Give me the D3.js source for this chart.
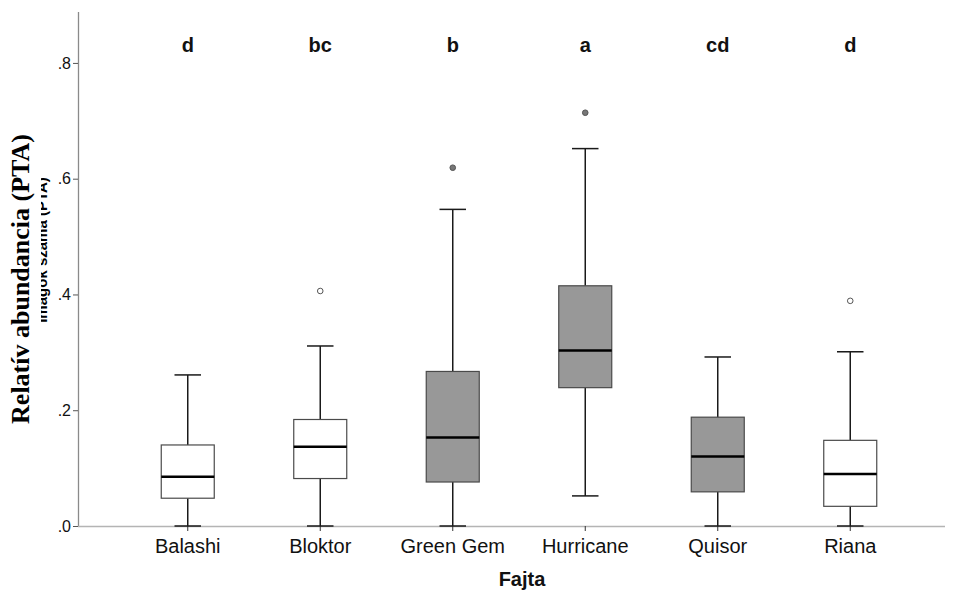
<!DOCTYPE html>
<html>
<head>
<meta charset="utf-8">
<script src="https://cdn.jsdelivr.net/npm/d3@7"></script>
<style>
  html, body { margin: 0; padding: 0; background: #fff; }
  svg { display: block; }
</style>
</head>
<body>
<svg id="chart" width="955" height="590"></svg>
<script>
const categories = ["Balashi", "Bloktor", "Green Gem", "Hurricane", "Quisor", "Riana"];
const whiskerLow = [0.000, 0.000, 0.000, 0.052, 0.000, 0.000];
const q1 = [0.048, 0.082, 0.076, 0.239, 0.059, 0.034];
const median = [0.085, 0.137, 0.153, 0.303, 0.120, 0.090];
const q3 = [0.140, 0.184, 0.267, 0.415, 0.188, 0.148];
const whiskerHigh = [0.261, 0.311, 0.547, 0.652, 0.292, 0.301];
const outliers = [null, 0.406, 0.619, 0.714, null, 0.389];
const letters = ["d", "bc", "b", "a", "cd", "d"];
const shaded = [false, false, true, true, true, false];
const yTicks = [0, 0.2, 0.4, 0.6, 0.8];

const data = categories.map((c, i) => ({
  cat: c, lo: whiskerLow[i], q1: q1[i], med: median[i], q3: q3[i],
  hi: whiskerHigh[i], out: outliers[i], letter: letters[i], shaded: shaded[i]
}));

const svg = d3.select("#chart");
const x = d3.scaleBand().domain(categories).range([121.5, 916.5]).padding(0);
const y = d3.scaleLinear().domain([0, 0.888]).range([526, 12]);
const cx = d => x(d.cat) + x.bandwidth() / 2;
const boxW = x.bandwidth() * 0.4;
const capW = x.bandwidth() * 0.2;

// hidden underlying y label
svg.append("text")
  .attr("transform", "translate(47,250) rotate(-90)")
  .attr("text-anchor", "middle")
  .attr("font-family", "Liberation Sans, Arial, sans-serif")
  .attr("font-weight", "bold")
  .attr("font-size", 15)
  .attr("fill", "#000")
  .text("Imágók száma (PTA)");
svg.append("rect").attr("x", 0).attr("y", 125).attr("width", 41).attr("height", 320).attr("fill", "#fff");

// main y label
svg.append("text")
  .attr("transform", "translate(29,279) rotate(-90)")
  .attr("text-anchor", "middle")
  .attr("font-family", "Liberation Serif, Times New Roman, serif")
  .attr("font-weight", "bold")
  .attr("font-size", 26)
  .attr("fill", "#000")
  .text("Relatív abundancia (PTA)");

// y axis
const yAxis = d3.axisLeft(y).tickValues(yTicks).tickSize(5)
  .tickFormat(v => d3.format(".1f")(v).replace(/^0/, ""));
const gy = svg.append("g").attr("transform", "translate(78,0)").call(yAxis);
gy.select(".domain").attr("stroke", "#8a8a8a").attr("stroke-width", 1.3)
  .attr("d", `M0.5,${y(0)}V${y(0.888)}`);
gy.selectAll(".tick line").attr("stroke", "#555");
gy.selectAll(".tick text")
  .attr("font-family", "Liberation Sans, Arial, sans-serif")
  .attr("font-size", 16).attr("fill", "#111").attr("x", -7);

// x axis
const xAxis = d3.axisBottom(x).tickSize(5).tickSizeOuter(0);
const gx = svg.append("g").attr("transform", `translate(0,${y(0)})`).call(xAxis);
gx.select(".domain").attr("stroke", "#b4b4b4").attr("stroke-width", 1.3)
  .attr("d", "M78,0.5H945");
gx.selectAll(".tick line").attr("stroke", "#333");
gx.selectAll(".tick text")
  .attr("font-family", "Liberation Sans, Arial, sans-serif")
  .attr("font-size", 20).attr("fill", "#111").attr("y", 13);

// x title
svg.append("text")
  .attr("x", 522).attr("y", 586)
  .attr("text-anchor", "middle")
  .attr("font-family", "Liberation Sans, Arial, sans-serif")
  .attr("font-weight", "bold").attr("font-size", 20).attr("fill", "#111")
  .text("Fajta");

// boxes
const g = svg.append("g").selectAll("g").data(data).join("g");

g.append("line").attr("x1", cx).attr("x2", cx)
  .attr("y1", d => y(d.lo)).attr("y2", d => y(d.q1))
  .attr("stroke", "#1a1a1a").attr("stroke-width", 1.5);
g.append("line").attr("x1", cx).attr("x2", cx)
  .attr("y1", d => y(d.q3)).attr("y2", d => y(d.hi))
  .attr("stroke", "#1a1a1a").attr("stroke-width", 1.5);
g.append("line").attr("x1", d => cx(d) - capW / 2).attr("x2", d => cx(d) + capW / 2)
  .attr("y1", d => y(d.lo)).attr("y2", d => y(d.lo))
  .attr("stroke", "#1a1a1a").attr("stroke-width", 1.5);
g.append("line").attr("x1", d => cx(d) - capW / 2).attr("x2", d => cx(d) + capW / 2)
  .attr("y1", d => y(d.hi)).attr("y2", d => y(d.hi))
  .attr("stroke", "#1a1a1a").attr("stroke-width", 1.5);
g.append("rect")
  .attr("x", d => cx(d) - boxW / 2).attr("width", boxW)
  .attr("y", d => y(d.q3)).attr("height", d => y(d.q1) - y(d.q3))
  .attr("fill", d => d.shaded ? "#989898" : "#fff")
  .attr("stroke", "#4a4a4a").attr("stroke-width", 1.2);
g.append("line").attr("x1", d => cx(d) - boxW / 2).attr("x2", d => cx(d) + boxW / 2)
  .attr("y1", d => y(d.med)).attr("y2", d => y(d.med))
  .attr("stroke", "#000").attr("stroke-width", 2.5);
g.filter(d => d.out != null).append("circle")
  .attr("cx", cx).attr("cy", d => y(d.out)).attr("r", 2.8)
  .attr("fill", d => d.shaded ? "#777" : "#fff")
  .attr("stroke", "#555").attr("stroke-width", 1);
g.append("text")
  .attr("x", cx).attr("y", 52)
  .attr("text-anchor", "middle")
  .attr("font-family", "Liberation Sans, Arial, sans-serif")
  .attr("font-weight", "bold").attr("font-size", 20).attr("fill", "#111")
  .text(d => d.letter);
</script>
</body>
</html>
